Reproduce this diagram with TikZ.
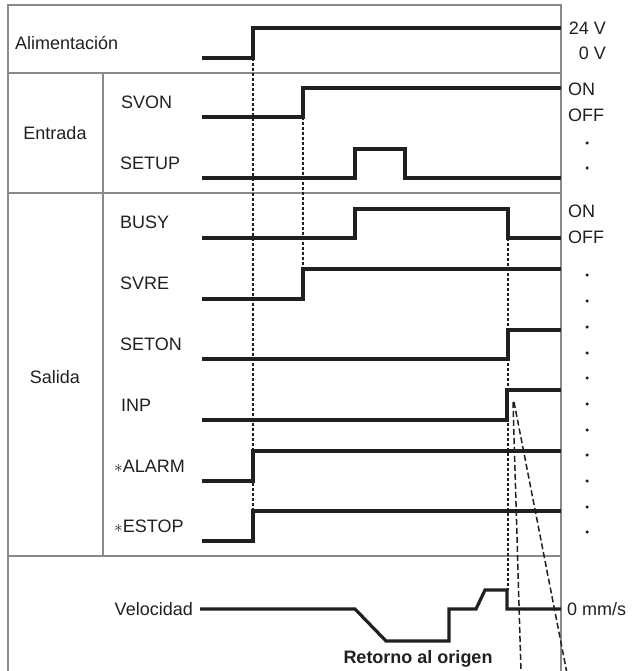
\documentclass[tikz,border=0pt]{standalone}
\usepackage{fontspec}
\setmainfont{Liberation Sans}
\usetikzlibrary{positioning}
\definecolor{sigline}{HTML}{231F20}
\definecolor{frameline}{HTML}{8A8A8A}

\begin{document}
\begin{tikzpicture}[x=1pt,y=-1pt,
  signal/.style={line width=3.2pt, color=sigline},
  frame/.style={line width=1.1pt, color=frameline},
  guide/.style={line width=1.1pt, color=sigline, dash pattern=on 3pt off 2pt},
  zoomline/.style={line width=1.5pt, color=sigline, dash pattern=on 6pt off 3pt},
  txt/.style={font=\fontsize{18}{21}\selectfont, inner sep=0pt, text=sigline},
  state/.style={txt, anchor=west},
  sig/.style={txt, anchor=west},
  dot/.style={circle, fill=sigline, inner sep=0pt, minimum size=3.5pt}]
  \useasboundingbox (0,0) rectangle (631,671);
  \clip (0,0) rectangle (631,671);

  % frame and rows
  \draw[frame] (8,671) -- (8,5) -- (561,5) -- (561,671);
  \draw[frame] (8,73) -- (561,73);
  \draw[frame] (8,193) -- (561,193);
  \draw[frame] (8,556) -- (561,556);
  \draw[frame] (103,73) -- (103,556);

  % group and signal names
  \node[txt, anchor=west] (alim) at (15,43) {Alimentación};
  \node[txt] (entrada) at (55,133) {Entrada};
  \node[txt] (salida) at (55,377) {Salida};
  \node[sig] (svon) at (121,102) {SVON};
  \node[sig] (setup) at (120,163) {SETUP};
  \node[sig] (busy) at (120,222) {BUSY};
  \node[sig] (svre) at (120,283) {SVRE};
  \node[sig] (seton) at (120,344) {SETON};
  \node[sig] (inp) at (121,405) {INP};
  \node[sig] (alarm) at (114,466) {$\ast$ALARM};
  \node[sig] (estop) at (114,526) {$\ast$ESTOP};
  \node[txt, anchor=east] (vel) at (193,609) {Velocidad};
  \node[txt, font=\fontsize{18}{21}\selectfont\bfseries] (retorno) at (418,659) {Retorno al origen};

  % levels on the right
  \node[txt, anchor=east] (v24) at (606,28) {24 V};
  \node[txt, anchor=east] (v0) at (606,53) {0 V};
  \node[state] (on1) at (568,89) {ON};
  \node[state] (off1) at (568,115) {OFF};
  \node[state] (on2) at (568,211) {ON};
  \node[state] (off2) at (568,237) {OFF};
  \node[txt, anchor=west] (mms) at (567,609) {0 mm/s};
  \foreach \y [count=\i] in {143,168,275,301,327,353,378,404,430,455,481,507,532}
    \node[dot] (dot\i) at (587,\y) {};

  % guide lines
  \draw[guide] (253,58) -- (253,511);
  \draw[guide] (303,117) -- (303,299);
  \draw[guide] (508,238) -- (508,590);

  % signals
  \draw[signal] (202,58) -- (253,58) -- (253,28) -- (561,28);
  \draw[signal] (202,117) -- (303,117) -- (303,88) -- (561,88);
  \draw[signal] (202,178) -- (355,178) -- (355,149) -- (405,149) -- (405,178) -- (561,178);
  \draw[signal] (202,238) -- (355,238) -- (355,209) -- (508,209) -- (508,238) -- (561,238);
  \draw[signal] (202,299) -- (303,299) -- (303,269) -- (561,269);
  \draw[signal] (202,359) -- (508,359) -- (508,330) -- (561,330);
  \draw[signal] (202,420) -- (507,420) -- (507,390) -- (561,390);
  \draw[signal] (202,481) -- (253,481) -- (253,451) -- (561,451);
  \draw[signal] (202,541) -- (253,541) -- (253,511) -- (561,511);

  % speed
  \draw[signal] (200,609) -- (355,609) -- (386,641) -- (449,641) -- (449,609)
    -- (476,609) -- (485,590) -- (507,590) -- (507,609) -- (561,609);

  % zoom lines from INP
  \draw[zoomline] (513,402) -- (523,740);
  \draw[zoomline] (514,402) -- (580,740);
\end{tikzpicture}
\end{document}
